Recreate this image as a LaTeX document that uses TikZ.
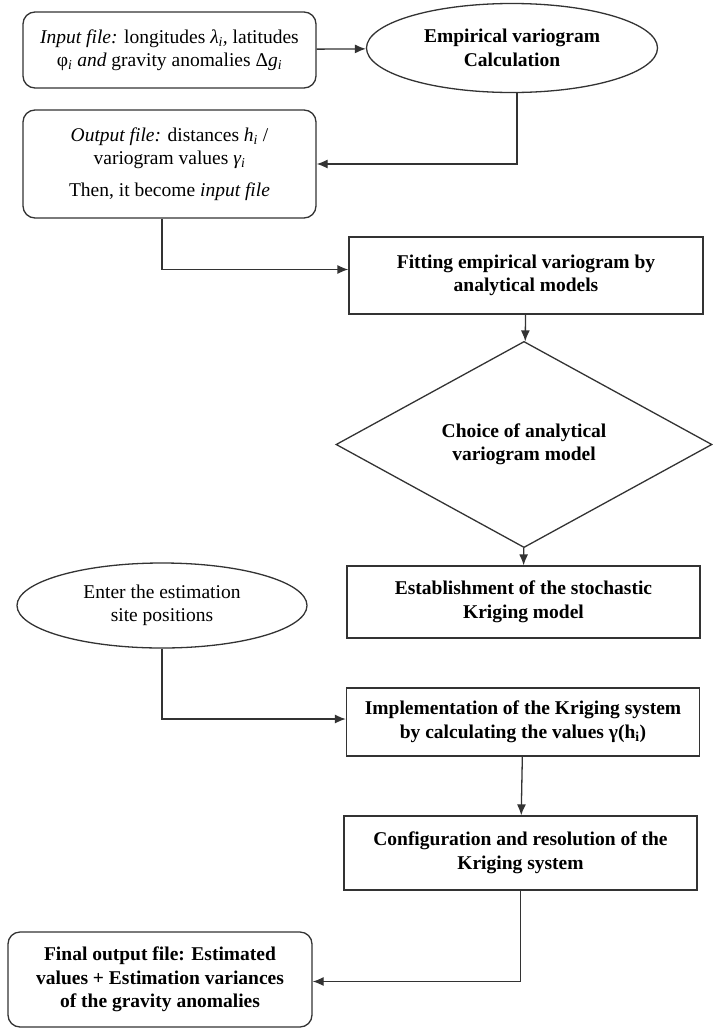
\documentclass[tikz,border=0pt]{standalone}
\usepackage{fontspec}
\setmainfont{Liberation Serif}
\usetikzlibrary{shapes.geometric,arrows.meta}
\begin{document}
\begin{tikzpicture}[
    x=1pt, y=-1pt,
    font=\fontsize{19.5}{23.5}\selectfont,
    rbox/.style={rectangle, rounded corners=12pt, draw=black!80, line width=1.3pt, align=center, inner sep=0pt},
    pbox/.style={rectangle, draw=black!80, line width=1.3pt, align=center, inner sep=0pt, font=\fontsize{19.5}{23.5}\selectfont\bfseries, minimum width=353pt},
    oval/.style={ellipse, draw=black!80, line width=1.3pt, align=center, inner sep=0pt},
    choice/.style={diamond, draw=black!80, line width=1.3pt, align=center, inner sep=0pt, font=\fontsize{19.5}{23.5}\selectfont\bfseries},
    arr/.style={draw=black!80, line width=1.3pt, -{Latex[length=11pt,width=9pt]}}
]
    % --- Input and empirical variogram ---
    \node[rbox, minimum width=293pt, minimum height=76pt] (inp) at (169.5, 50)
        {\textit{Input file:} longitudes \textit{λ\textsubscript{i},} latitudes\\
         φ\textsubscript{\textit{i}} \textit{and} gravity anomalies Δ\textit{g\textsubscript{i}}};
    \node[oval, minimum width=291pt, minimum height=89pt, font=\fontsize{19.5}{23.5}\selectfont\bfseries] (emp) at (512, 48)
        {Empirical variogram\\Calculation};
    \node[rbox, minimum width=293pt, minimum height=108pt] (outp) at (169.5, 164)
        {\textit{Output file:} distances \textit{h\textsubscript{i}} /\\
         variogram values \textit{γ\textsubscript{i}}\\[8pt]
         Then, it become \textit{input file}};

    % --- Model fitting ---
    \node[pbox, minimum width=354pt, minimum height=77pt] (fit) at (526, 275.5)
        {Fitting empirical variogram by\\analytical models};
    \node[choice, minimum width=376pt, minimum height=123pt] (model) at (524, 444.5)
        {Choice of analytical\\variogram model};
    \node[pbox, minimum height=72pt] (est) at (523.5, 602)
        {Establishment of the stochastic\\Kriging model};

    % --- Kriging ---
    \node[oval, minimum width=290pt, minimum height=85pt] (enter) at (162, 605.5)
        {Enter the estimation\\site positions};
    \node[pbox, minimum height=68pt] (impl) at (523, 722)
        {Implementation of the Kriging system\\by calculating the values γ(h\textsubscript{i})};
    \node[pbox, minimum height=74pt] (conf) at (520.5, 853)
        {Configuration and resolution of the\\Kriging system};
    \node[rbox, minimum width=304pt, minimum height=95pt, font=\fontsize{19.5}{23.5}\selectfont\bfseries] (final) at (160, 979.5)
        {Final output file: Estimated\\values + Estimation variances\\of the gravity anomalies};

    \draw[arr] (inp) -- (emp);
    \draw[arr] ([xshift=5pt]emp.south) |- (outp.east);
    \draw[arr] ([xshift=-7.5pt]outp.south) |- ([yshift=6pt]fit.west);
    \draw[arr] (fit) -- (model);
    \draw[arr] (model) -- (est);
    \draw[arr] (enter.south) |- ([yshift=3pt]impl.west);
    \draw[arr] (impl) -- (conf);
    \draw[arr] (conf.south) |- ([yshift=-2pt]final.east);

    % Bounding box for padding
    \useasboundingbox (0, 0) rectangle (712, 1031);
\end{tikzpicture}
\end{document}
